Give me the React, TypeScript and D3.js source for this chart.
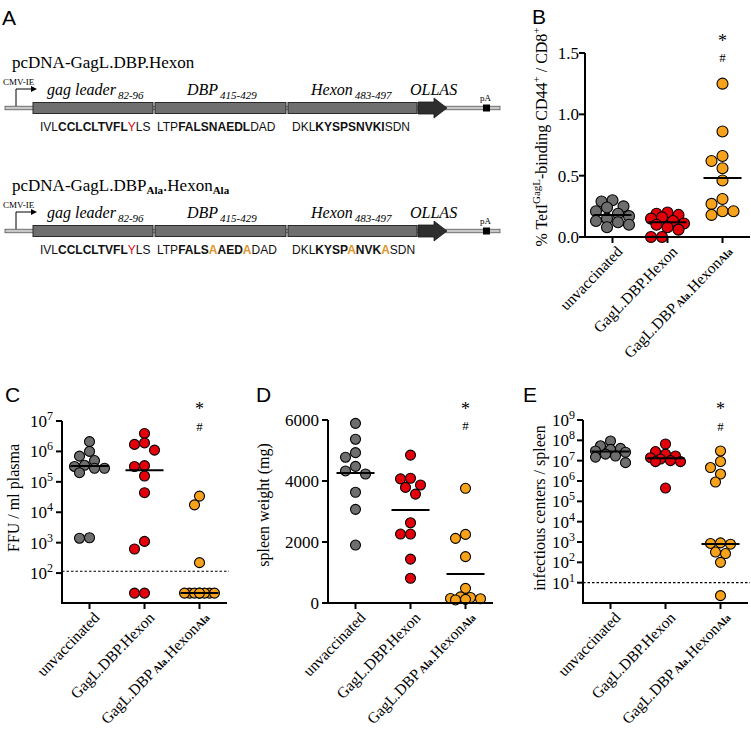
import React from "react";
import * as d3 from "d3";

const SERIF = "'Liberation Serif', 'Times New Roman', serif";
const SANS = "'Liberation Sans', Arial, sans-serif";

// ---------- data ----------
const groupKeys = ["unvaccinated", "dbp", "ala"];
const groupColors = ["#6e6e6e", "#e3000b", "#f7a21b"];

// Panel B: % TetI(GagL)-binding CD44+ / CD8+
const bTicks = [0, 0.5, 1.0, 1.5];
const bUnvacc = [0.3, 0.29, 0.25, 0.24, 0.21, 0.19, 0.17, 0.15, 0.13, 0.12, 0.1, 0.08];
const bDbp = [0.2, 0.19, 0.18, 0.16, 0.15, 0.13, 0.11, 0.1, 0.08, 0.06, 0.0, 0.0];
const bAla = [1.25, 0.86, 0.66, 0.62, 0.56, 0.46, 0.31, 0.27, 0.21, 0.21, 0.18];
const bCenter = [0.18, 0.12, 0.48];

// Panel C: FFU / ml plasma
const cTickExp = [2, 3, 4, 5, 6, 7];
const cUnvacc = [2.1e6, 1.0e6, 7e5, 5e5, 3.5e5, 3.2e5, 2.8e5, 2.8e5, 2.0e5, 1.4e3, 1.45e3];
const cDbp = [3.9e6, 1.9e6, 1.7e6, 1.1e6, 3.4e5, 3.2e5, 1.55e5, 4.4e4, 1.1e3, 6.2e2, 22, 22];
const cAla = [3.4e4, 1.75e4, 2.2e2, 22, 22, 22, 22, 22, 22, 22, 22];
const cCenter = [3.3e5, 2.4e5, 22];
const cLod = 115;

// Panel D: spleen weight (mg)
const dTicks = [0, 2000, 4000, 6000];
const dUnvacc = [5890, 5370, 4930, 4780, 4480, 4330, 4230, 3630, 3070, 1900];
const dDbp = [4850, 4090, 4070, 3870, 3790, 3570, 2630, 2260, 2260, 1440, 810];
const dAla = [3760, 2250, 2120, 1520, 480, 200, 180, 150, 140, 120, 100];
const dCenter = [4260, 3050, 950];

// Panel E: infectious centers / spleen
const eTickExp = [1, 2, 3, 4, 5, 6, 7, 8, 9];
const eUnvacc = [9.3e7, 5.4e7, 4e7, 3.6e7, 3e7, 2.6e7, 2.1e7, 1.7e7, 1.5e7, 8e6];
const eDbp = [6.6e7, 2.8e7, 2.1e7, 1.7e7, 1.4e7, 1.2e7, 1.0e7, 9e6, 9e6, 4.5e5];
const eAla = [3e7, 9.1e6, 4.6e6, 2.2e6, 8.9e5, 9.1e2, 8.5e2, 7.8e2, 3.2e2, 2.7e2, 1e2, 2.3];
const eCenter = [2.8e7, 1.3e7, 8e2];
const eLod = 10;

// Panel A: constructs
const construct1Title = [["pcDNA-GagL.DBP.Hexon", "n"]];
const construct2Title = [["pcDNA-GagL.DBP", "n"], ["Ala", "sub"], [".Hexon", "n"], ["Ala", "sub"]];
const segLabels = [
  ["gag leader", "82-96"],
  ["DBP", "415-429"],
  ["Hexon", "483-497"],
];
const seq1 = [
  [["IVL", "n"], ["CCLCLTVFL", "b"], ["Y", "r"], ["LS", "n"]],
  [["LTP", "n"], ["FALSNAEDL", "b"], ["DAD", "n"]],
  [["DKL", "n"], ["KYSPSNVKI", "b"], ["SDN", "n"]],
];
const seq2 = [
  [["IVL", "n"], ["CCLCLTVFL", "b"], ["Y", "r"], ["LS", "n"]],
  [["LTP", "n"], ["FALS", "b"], ["A", "o"], ["AED", "b"], ["A", "o"], ["DAD", "n"]],
  [["DKL", "n"], ["KYSP", "b"], ["A", "o"], ["NVK", "b"], ["A", "o"], ["SDN", "n"]],
];

// ---------- helpers ----------
function swarm(ys: number[], r: number, step: number, maxOff: number): number[] {
  const idx = ys.map((_, i) => i).sort((a, b) => ys[a] - ys[b]);
  const placed: { x: number; y: number }[] = [];
  const out = new Array(ys.length).fill(0);
  const cands = [0];
  for (let k = 1; k * step <= maxOff + 0.01; k++) cands.push(-k * step, k * step);
  for (const i of idx) {
    const y = ys[i];
    let best = 0;
    let bestD = -1;
    for (const c of cands) {
      let md = Infinity;
      for (const p of placed) md = Math.min(md, Math.hypot(p.x - c, p.y - y));
      if (md >= 2 * r - 0.6) {
        best = c;
        break;
      }
      if (md > bestD) {
        bestD = md;
        best = c;
      }
    }
    out[i] = best;
    placed.push({ x: best, y });
  }
  return out;
}

function GroupLabel({ k }: { k: string }) {
  if (k === "unvaccinated") return <>unvaccinated</>;
  if (k === "dbp") return <>GagL.DBP.Hexon</>;
  return (
    <>
      GagL.DBP
      <tspan fontSize={10.5} fontWeight="bold" dx={2}>Ala</tspan>
      <tspan>.Hexon</tspan>
      <tspan fontSize={10.5} fontWeight="bold">Ala</tspan>
    </>
  );
}

type PanelProps = {
  letter: string;
  letterPos: [number, number];
  x0: number;
  axisY: number;
  yScale: any;
  yTop: number;
  ticks: number[];
  tickLabel: (v: number) => React.ReactNode;
  series: number[][];
  centers: number[];
  lod?: number;
  yTitle: React.ReactNode;
  yTitlePos: [number, number];
  starY: [number, number];
  r: number;
  tickLabelGap: number;
};

function Panel(p: PanelProps) {
  const width = 165;
  const x = d3.scalePoint<string>().domain(groupKeys).range([p.x0, p.x0 + width]).padding(0.5);
  const axisColor = "#000";
  return (
    <g>
      <text x={p.letterPos[0]} y={p.letterPos[1]} fontFamily={SANS} fontSize={21}>{p.letter}</text>
      {/* y title */}
      <text
        transform={`translate(${p.yTitlePos[0]},${p.yTitlePos[1]}) rotate(-90)`}
        textAnchor="middle"
        fontFamily={SERIF}
        fontSize={16}
      >
        {p.yTitle}
      </text>
      {/* y ticks */}
      {p.ticks.map((t, i) => (
        <g key={i}>
          <line x1={p.x0 - 6} x2={p.x0} y1={p.yScale(t)} y2={p.yScale(t)} stroke={axisColor} strokeWidth={2} />
          <text
            x={p.x0 - p.tickLabelGap}
            y={p.yScale(t) + 6}
            textAnchor="end"
            fontFamily={SERIF}
            fontSize={17}
          >
            {p.tickLabel(t)}
          </text>
        </g>
      ))}
      {/* LOD */}
      {p.lod !== undefined && (
        <line
          x1={p.x0}
          x2={p.x0 + width + 2}
          y1={p.yScale(p.lod)}
          y2={p.yScale(p.lod)}
          stroke="#000"
          strokeWidth={1.2}
          strokeDasharray="2.5,2"
        />
      )}
      {/* points */}
      {p.series.map((vals, gi) => {
        const ys = vals.map((v) => p.yScale(v));
        const offs = swarm(ys, p.r, p.r, p.r * 3.2);
        return (
          <g key={gi}>
            {vals.map((v, i) => (
              <circle
                key={i}
                cx={(x(groupKeys[gi]) as number) + offs[i]}
                cy={ys[i]}
                r={p.r}
                fill={groupColors[gi]}
                stroke="#000"
                strokeWidth={1.1}
              />
            ))}
          </g>
        );
      })}
      {/* center lines */}
      {p.centers.map((c, gi) => (
        <line
          key={gi}
          x1={(x(groupKeys[gi]) as number) - 19}
          x2={(x(groupKeys[gi]) as number) + 19}
          y1={p.yScale(c)}
          y2={p.yScale(c)}
          stroke="#000"
          strokeWidth={2}
        />
      ))}
      {/* axes */}
      <line x1={p.x0} x2={p.x0} y1={p.yTop} y2={p.axisY + 1} stroke={axisColor} strokeWidth={2} />
      <line x1={p.x0 - 1} x2={p.x0 + width} y1={p.axisY} y2={p.axisY} stroke={axisColor} strokeWidth={2} />
      {groupKeys.map((k) => (
        <g key={k}>
          <line x1={x(k) as number} x2={x(k) as number} y1={p.axisY} y2={p.axisY + 6} stroke={axisColor} strokeWidth={2} />
          <text
            transform={`translate(${(x(k) as number) + 3},${p.axisY + 8}) rotate(-46)`}
            textAnchor="end"
            dy="0.7em"
            fontFamily={SERIF}
            fontSize={15.5}
          >
            <GroupLabel k={k} />
          </text>
        </g>
      ))}
      {/* significance marks */}
      <text x={x("ala") as number} y={p.starY[0] + 8} textAnchor="middle" fontFamily={SERIF} fontSize={18}>*</text>
      <text x={x("ala") as number} y={p.starY[1] + 5} textAnchor="middle" fontFamily={SERIF} fontSize={13}>#</text>
    </g>
  );
}

function Pow10({ e }: { e: number }) {
  return (
    <>
      10<tspan fontSize={12} dy={-7}>{e}</tspan>
    </>
  );
}

function SeqText({ x, y, segs }: { x: number; y: number; segs: string[][] }) {
  return (
    <text x={x} y={y} fontFamily={SANS} fontSize={12} fill="#111">
      {segs.map(([s, k], i) => (
        <tspan
          key={i}
          fontWeight={k === "b" || k === "o" ? "bold" : "normal"}
          fill={k === "r" ? "#e3000b" : k === "o" ? "#e0952a" : "#111"}
        >
          {s}
        </tspan>
      ))}
    </text>
  );
}

function Construct({ y0, title, seq }: { y0: number; title: string[][]; seq: string[][][] }) {
  const boxes = [
    [33, 153],
    [155, 286],
    [288, 417],
  ];
  const labelX = [47, 187, 311];
  const seqX = [40, 157, 292];
  return (
    <g>
      <text x={12} y={y0 - 40} fontFamily={SERIF} fontSize={17}>
        {title.map(([s, k], i) =>
          k === "sub" ? (
            <tspan key={i} fontSize={11} fontWeight="bold" dy={3}>{s}</tspan>
          ) : (
            <tspan key={i} dy={i > 0 ? -3 : 0}>{s}</tspan>
          )
        )}
      </text>
      {/* backbone */}
      <rect x={5} y={y0 - 1.8} width={495} height={3.6} fill="#c8c8c8" stroke="#444" strokeWidth={0.7} />
      {/* promoter */}
      <text x={3} y={y0 - 23} fontFamily={SERIF} fontSize={9}>CMV-IE</text>
      <path d={`M16,${y0 - 2} V${y0 - 19} H32`} fill="none" stroke="#000" strokeWidth={1} />
      <path d={`M37,${y0 - 19} L31,${y0 - 22} L31,${y0 - 16} Z`} fill="#000" />
      {/* segment boxes */}
      {boxes.map(([a, b], i) => (
        <rect key={i} x={a} y={y0 - 5.5} width={b - a} height={11} fill="#6f6f6f" stroke="#2a2a2a" strokeWidth={1} />
      ))}
      {/* OLLAS arrow */}
      <path
        d={`M418,${y0 - 6} H434 V${y0 - 10} L447,${y0} L434,${y0 + 10} V${y0 + 6} H418 Z`}
        fill="#2e2e2e"
        stroke="#1a1a1a"
        strokeWidth={0.8}
      />
      {/* labels */}
      {segLabels.map(([name, sub], i) => (
        <text key={i} x={labelX[i]} y={y0 - 13} fontFamily={SERIF} fontStyle="italic" fontSize={16}>
          {name}
          <tspan fontSize={11} dx={2} dy={4}>{sub}</tspan>
        </text>
      ))}
      <text x={410} y={y0 - 13} fontFamily={SERIF} fontStyle="italic" fontSize={16}>OLLAS</text>
      {/* pA */}
      <text x={480} y={y0 - 7} fontFamily={SERIF} fontSize={9}>pA</text>
      <rect x={483} y={y0 - 3.5} width={7} height={7} fill="#000" />
      {/* sequences */}
      {seq.map((segs, i) => (
        <SeqText key={i} x={seqX[i]} y={y0 + 23} segs={segs} />
      ))}
    </g>
  );
}

export default function App() {
  const bY = d3.scaleLinear().domain([0, 1.5]).range([237, 53]);
  const cY = d3.scaleLog().domain([10, 1e7]).range([603.5, 421]);
  const dY = d3.scaleLinear().domain([0, 6000]).range([603, 420]);
  const eY = d3.scaleLog().domain([1, 1e9]).range([603, 420]);

  return (
    <div style={{ position: "absolute", left: 0, top: 0 }}>
      <svg width={751} height={732} viewBox="0 0 751 732" style={{ display: "block", background: "#fff" }}>
        {/* Panel A */}
        <text x={2} y={25} fontFamily={SANS} fontSize={21}>A</text>
        <Construct y0={108} title={construct1Title} seq={seq1} />
        <Construct y0={231} title={construct2Title} seq={seq2} />

        {/* Panel B */}
        <Panel
          letter="B"
          letterPos={[532, 24]}
          x0={585}
          axisY={237}
          yScale={bY}
          yTop={53}
          ticks={bTicks}
          tickLabel={(v) => v.toFixed(1)}
          series={[bUnvacc, bDbp, bAla]}
          centers={bCenter}
          yTitle={
            <>
              % TetI<tspan fontSize={11} dy={-7}>GagL</tspan>
              <tspan dy={7}>-binding CD44</tspan>
              <tspan fontSize={11} dy={-7}>+</tspan>
              <tspan dy={7}> / CD8</tspan>
              <tspan fontSize={11} dy={-7}>+</tspan>
            </>
          }
          yTitlePos={[547, 137]}
          starY={[39, 57]}
          r={5.5}
          tickLabelGap={6}
        />

        {/* Panel C */}
        <Panel
          letter="C"
          letterPos={[5, 402]}
          x0={62}
          axisY={603}
          yScale={cY}
          yTop={421}
          ticks={cTickExp.map((e) => Math.pow(10, e))}
          tickLabel={(v) => <Pow10 e={Math.round(Math.log10(v))} />}
          series={[cUnvacc, cDbp, cAla]}
          centers={cCenter}
          lod={cLod}
          yTitle={<>FFU / ml plasma</>}
          yTitlePos={[19, 498]}
          starY={[407, 426]}
          r={5}
          tickLabelGap={9}
        />

        {/* Panel D */}
        <Panel
          letter="D"
          letterPos={[256, 402]}
          x0={328}
          axisY={603}
          yScale={dY}
          yTop={420}
          ticks={dTicks}
          tickLabel={(v) => String(v)}
          series={[dUnvacc, dDbp, dAla]}
          centers={dCenter}
          yTitle={<>spleen weight (mg)</>}
          yTitlePos={[269, 505]}
          starY={[407, 425]}
          r={5}
          tickLabelGap={9}
        />

        {/* Panel E */}
        <Panel
          letter="E"
          letterPos={[523, 402]}
          x0={583}
          axisY={603}
          yScale={eY}
          yTop={420}
          ticks={eTickExp.map((e) => Math.pow(10, e))}
          tickLabel={(v) => <Pow10 e={Math.round(Math.log10(v))} />}
          series={[eUnvacc, eDbp, eAla]}
          centers={eCenter}
          lod={eLod}
          yTitle={<>infectious centers / spleen</>}
          yTitlePos={[545, 508]}
          starY={[407, 426]}
          r={5}
          tickLabelGap={8}
        />
      </svg>
    </div>
  );
}
